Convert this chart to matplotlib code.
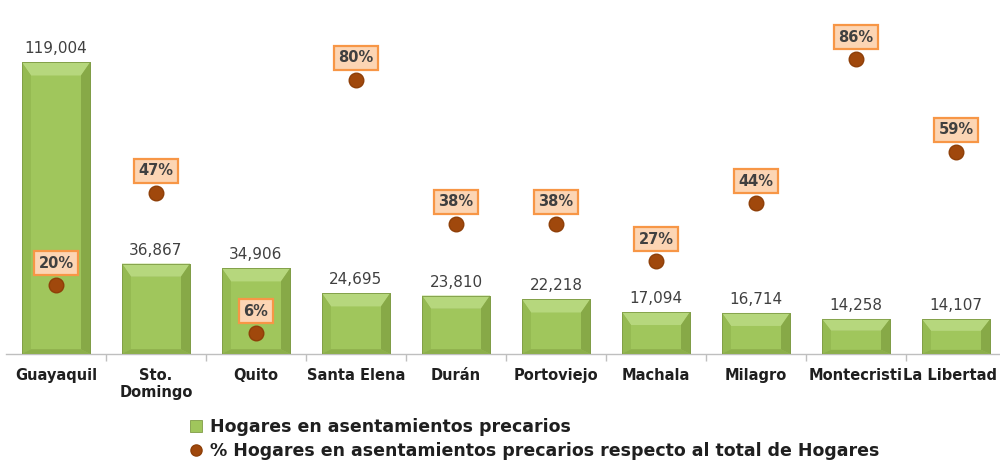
import matplotlib
matplotlib.use("Agg")
import matplotlib.pyplot as plt
from matplotlib.patches import Polygon, Rectangle
from matplotlib.lines import Line2D
import matplotlib.transforms as mtransforms
import numpy as np

categories = ["Guayaquil", "Sto.\nDomingo", "Quito", "Santa Elena", "Durán",
              "Portoviejo", "Machala", "Milagro", "Montecristi", "La Libertad"]
hogares = [119004, 36867, 34906, 24695, 23810, 22218, 17094, 16714, 14258, 14107]
porcentaje = [0.20, 0.47, 0.06, 0.80, 0.38, 0.38, 0.27, 0.44, 0.86, 0.59]

plt.rcParams['font.family'] = ['DejaVu Sans']

fig = plt.figure(figsize=(10, 4.62), dpi=100)
ax = fig.add_axes([0.006, 0.234, 0.994, 0.742])
ax2 = ax.twinx()

x = np.arange(len(categories))
ax.set_xlim(-0.5, len(categories) - 0.56)
ax.set_ylim(0, 140000)
ax2.set_ylim(0, 1.0)

bars = ax.bar(x, hogares, width=0.68, color="#9BBB59", edgecolor="#7F9C45",
              linewidth=0.6, zorder=2)

# bevel effect derived from each bar's geometry
fig.canvas.draw()
inv = ax.transData.inverted()
def px_to_data(dx_px, dy_px):
    p0 = inv.transform((0, 0))
    p1 = inv.transform((dx_px, dy_px))
    return p1[0] - p0[0], p1[1] - p0[1]

bx, by = px_to_data(9, 13)
for b in bars:
    x0, y0 = b.get_x(), b.get_y()
    w, h = b.get_width(), b.get_height()
    x1, y1 = x0 + w, y0 + h
    dy = min(by, h / 3)
    ix0, ix1, iy0, iy1 = x0 + bx, x1 - bx, y0 + dy * 0.35, y1 - dy
    ax.add_patch(Polygon([(ix0, iy0), (ix1, iy0), (ix1, iy1), (ix0, iy1)],
                         closed=True, facecolor="#A0C65C", edgecolor="none", zorder=3))
    ax.add_patch(Polygon([(x0, y1), (x1, y1), (ix1, iy1), (ix0, iy1)],
                         closed=True, facecolor="#B6D77D", edgecolor="none", zorder=3))
    ax.add_patch(Polygon([(x0, y0), (x0, y1), (ix0, iy1), (ix0, iy0)],
                         closed=True, facecolor="#95BA52", edgecolor="none", zorder=3))
    ax.add_patch(Polygon([(x1, y0), (x1, y1), (ix1, iy1), (ix1, iy0)],
                         closed=True, facecolor="#87A947", edgecolor="none", zorder=3))
    ax.add_patch(Polygon([(x0, y0), (x1, y0), (ix1, iy0), (ix0, iy0)],
                         closed=True, facecolor="#8CAF4B", edgecolor="none", zorder=3))
    ax.add_patch(Rectangle((x0, y0), w, h, facecolor="none", edgecolor="#7F9C45",
                           linewidth=0.6, zorder=4))

for xi, v in zip(x, hogares):
    ax.annotate(f"{v:,}", (xi, v), xytext=(0, 6), textcoords="offset pixels",
                ha="center", va="bottom", fontsize=11, color="#404040", zorder=5)

ax2.plot(x, porcentaje, linestyle="none", marker="o", markersize=10.5,
         color="#A0480C", markeredgecolor="#8E3F08", zorder=6)
for xi, p in zip(x, porcentaje):
    ax2.annotate(f"{p:.0%}", (xi, p), xytext=(0, 22), textcoords="offset pixels",
                 ha="center", va="center", fontsize=10.5, fontweight="bold",
                 color="#404040",
                 bbox=dict(boxstyle="square,pad=0.3", facecolor="#FCD5B4",
                           edgecolor="#F79646", linewidth=1.6), zorder=7)

for a in (ax, ax2):
    for s in ("top", "left", "right"):
        a.spines[s].set_visible(False)
    a.set_yticks([])
ax2.spines["bottom"].set_visible(False)
ax.spines["bottom"].set_color("#BFBFBF")
ax.spines["bottom"].set_linewidth(1.0)

ax.set_xticks(x)
ax.set_xticklabels(categories, fontsize=10.5, fontweight="bold", color="#1F1F1F",
                   linespacing=1.15)
ax.tick_params(axis="x", which="major", length=0, pad=10)
ax.set_xticks(x[:-1] + 0.5, minor=True)
ax.tick_params(axis="x", which="minor", length=5, color="#BFBFBF", width=1.0)
# nudge the last label so it fits inside the figure
last = ax.get_xticklabels()[-1]
last.set_transform(last.get_transform() +
                   mtransforms.ScaledTranslation(-6 / 100, 0, fig.dpi_scale_trans))
ax.set_zorder(ax2.get_zorder() - 1)
ax.patch.set_visible(False)

handles = [Rectangle((0, 0), 1, 1, facecolor="#A0C65C", edgecolor="#7F9C45", linewidth=0.6),
           Line2D([], [], linestyle="none", marker="o", markersize=8,
                  color="#A0480C", markeredgecolor="#8E3F08")]
labels = ["Hogares en asentamientos precarios",
          "% Hogares en asentamientos precarios respecto al total de Hogares"]
fig.legend(handles, labels, loc="upper left", bbox_to_anchor=(0.19, 0.095),
           frameon=False, handlelength=0.7, handleheight=0.7, handletextpad=0.45,
           labelspacing=0.35, borderaxespad=0, borderpad=0,
           prop={"weight": "bold", "size": 12.5}, labelcolor="#1F1F1F")

fig.savefig("out.png", dpi=100)
